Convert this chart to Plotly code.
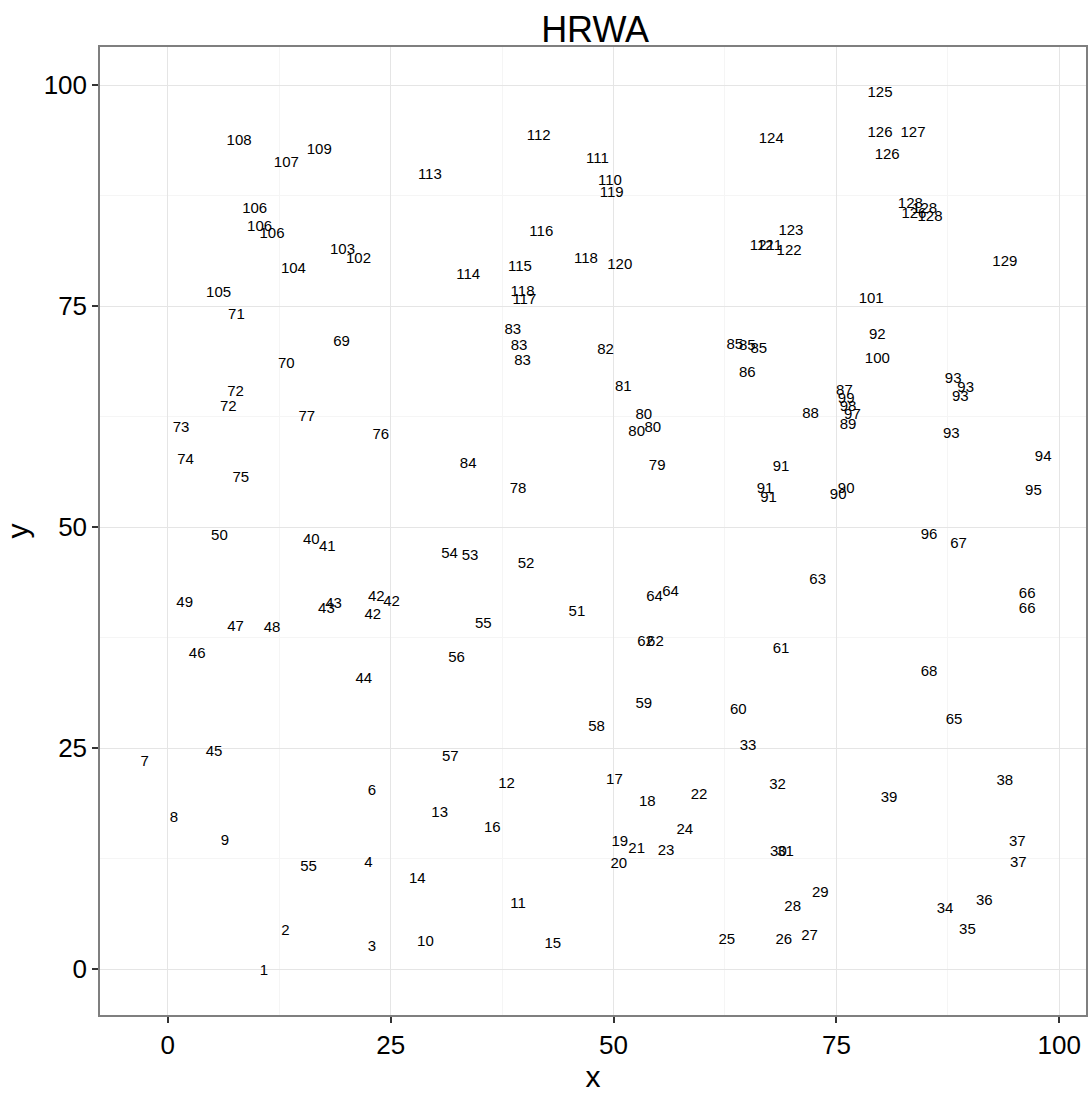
import plotly.graph_objects as go

labels = ["1","2","3","4","55","6","7","8","9","10","11","12","13","14","15","16","17","18","19","20",
          "21","22","23","24","25","26","27","28","29","30","31","32","33","34","35","36","37","37","38","39",
          "40","41","42","42","42","43","43","44","45","46","47","48","49","50","51","52","53","54","55","56",
          "57","58","59","60","61","62","62","63","64","64","65","66","66","67","68","69","70","71","72","72",
          "73","74","75","76","77","78","79","80","80","80","81","82","83","83","83","84","85","85","85","86",
          "87","88","89","90","90","91","91","91","92","93","93","93","93","94","95","96","97","98","99","100",
          "101","102","103","104","105","106","106","106","107","108","109","110","111","112","113","114","115","116","117","118",
          "118","119","120","121","121","122","123","124","125","126","126","127","128","126","128","128","129"]

x_vals = [10.8,13.2,22.9,22.5,15.8,22.9,-2.6,0.7,6.4,28.9,39.3,38.0,30.5,28.0,43.2,36.4,50.1,53.8,50.7,50.6,
          52.6,59.6,55.9,58.0,62.7,69.1,72.0,70.1,73.2,68.5,69.3,68.4,65.1,87.2,89.7,91.6,95.3,95.4,93.9,80.9,
          16.1,17.9,23.4,25.1,23.0,18.6,17.8,22.0,5.2,3.3,7.6,11.7,1.9,5.8,45.9,40.2,33.9,31.6,35.4,32.4,
          31.7,48.1,53.4,64.0,68.8,53.6,54.7,72.9,54.6,56.4,88.2,96.4,96.4,88.7,85.4,19.5,13.3,7.7,7.6,6.8,
          1.5,2.0,8.2,23.9,15.6,39.3,54.9,53.4,52.6,54.4,51.1,49.1,38.7,39.4,39.8,33.7,63.6,65.0,66.3,65.0,
          75.9,72.1,76.3,75.2,76.1,68.8,67.0,67.4,79.6,88.1,89.5,88.9,87.9,98.2,97.1,85.4,76.8,76.3,76.1,79.6,
          78.9,21.4,19.6,14.1,5.7,9.75,10.3,11.7,13.3,8.0,17.0,49.6,48.2,41.6,29.4,33.7,39.5,41.9,40.0,39.8,
          46.9,49.8,50.7,66.7,67.5,69.7,69.9,67.7,79.9,79.9,80.7,83.6,83.3,83.7,84.9,85.5,93.9]

y_vals = [-0.3,4.3,2.5,12.0,11.5,20.1,23.4,17.1,14.4,3.0,7.3,20.9,17.6,10.2,2.8,15.9,21.3,18.9,14.3,11.9,
          13.6,19.7,13.3,15.7,3.2,3.2,3.7,7.0,8.6,13.2,13.2,20.8,25.2,6.8,4.4,7.7,14.3,12.0,21.2,19.3,
          48.5,47.7,42.0,41.5,40.0,41.3,40.7,32.8,24.5,35.6,38.7,38.6,41.4,49.0,40.4,45.8,46.7,46.9,39.0,35.1,
          24.0,27.4,30.0,29.3,36.2,37.0,37.0,44.0,42.0,42.6,28.1,42.4,40.7,48.1,33.6,70.9,68.4,73.9,65.3,63.5,
          61.2,57.6,55.5,60.4,62.4,54.3,56.9,62.6,60.7,61.2,65.8,70.0,72.3,70.5,68.7,57.1,70.6,70.4,70.1,67.4,
          65.4,62.8,61.5,53.6,54.3,56.8,54.3,53.3,71.7,66.7,65.7,64.7,60.5,57.9,54.1,49.1,62.6,63.5,64.4,69.0,
          75.8,80.3,81.3,79.2,76.4,85.9,83.9,83.1,91.1,93.6,92.6,89.1,91.6,94.2,89.8,78.5,79.4,83.4,75.6,76.6,
          80.3,87.8,79.6,81.8,81.8,81.2,83.5,93.9,99.1,94.5,92.1,94.6,86.5,85.4,86.0,85.0,79.9]

tick_vals = [0, 25, 50, 75, 100]
tick_text = ["0", "25", "50", "75", "100"]

FONT = "Liberation Sans, Arial, sans-serif"

fig = go.Figure()
fig.add_trace(go.Scatter(
    x=x_vals, y=y_vals, text=labels, mode="text",
    textposition="middle center",
    textfont=dict(family=FONT, size=15, color="black"),
    hoverinfo="skip", showlegend=False,
))

axis_common = dict(
    tickvals=tick_vals, ticktext=tick_text,
    showgrid=True, gridcolor="#e5e5e5", gridwidth=1,
    minor=dict(dtick=12.5, tick0=12.5, showgrid=True, gridcolor="#f5f5f5", gridwidth=1),
    zeroline=False,
    showline=True, linecolor="#7f7f7f", linewidth=1.5, mirror=True,
    ticks="outside", ticklen=6, tickcolor="#333333", tickwidth=1.5,
    tickfont=dict(family=FONT, size=26, color="black"),
)

fig.update_xaxes(range=[-7.6, 103.0],
                 title=dict(text="x", font=dict(family=FONT, size=30, color="black"), standoff=4),
                 **axis_common)
fig.update_yaxes(range=[-5.2, 104.3],
                 title=dict(text="y", font=dict(family=FONT, size=30, color="black"), standoff=6),
                 **axis_common)

fig.update_layout(
    width=1090, height=1093,
    margin=dict(l=100, r=2, t=47, b=78),
    plot_bgcolor="white", paper_bgcolor="white",
    title=dict(text="HRWA", x=0.546, xanchor="center", y=0.973, yanchor="middle",
               font=dict(family=FONT, size=36, color="black")),
)

fig.write_html("out.html")
